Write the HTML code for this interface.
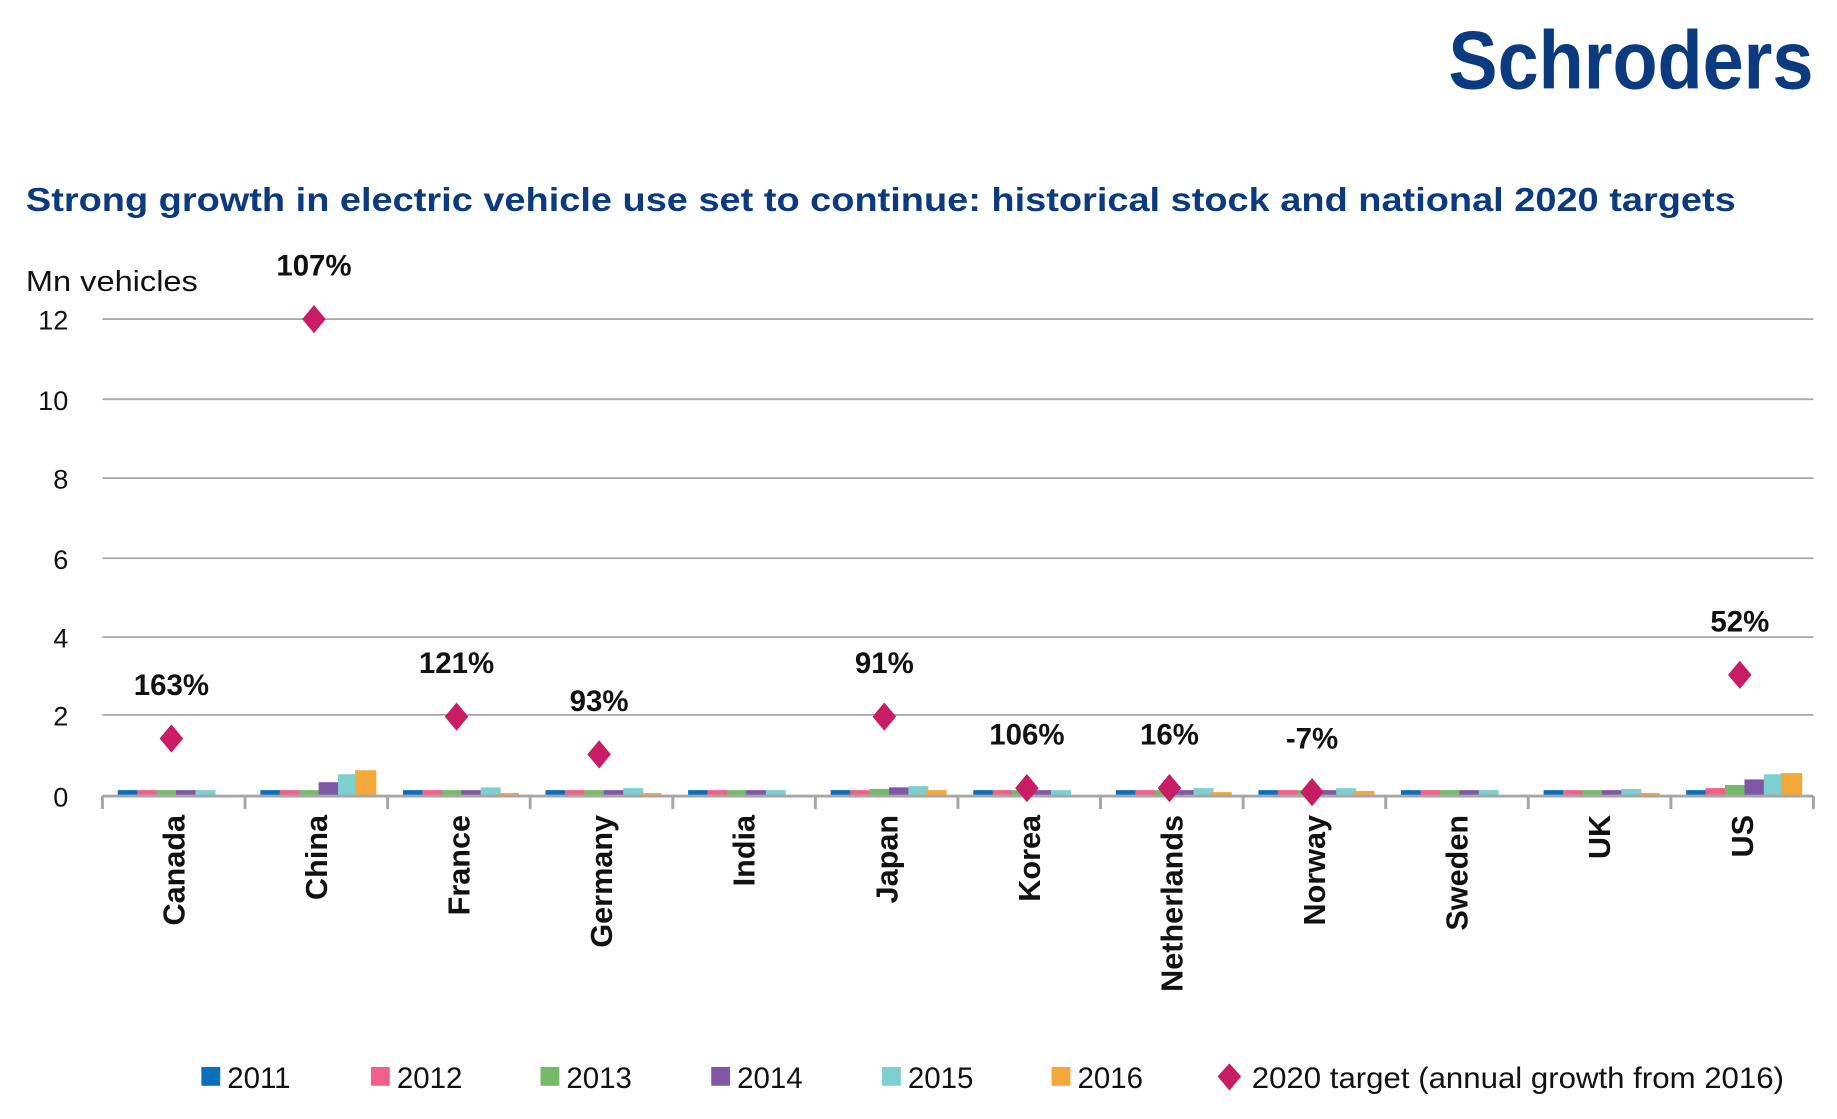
<!DOCTYPE html>
<html><head><meta charset="utf-8"><style>
html,body{margin:0;padding:0;background:#fff;width:1837px;height:1119px;overflow:hidden}
svg{display:block}
text{font-family:"Liberation Sans",sans-serif}
</style></head><body>
<svg width="1837" height="1119" viewBox="0 0 1560 950.2" preserveAspectRatio="none">
<text x="1230" y="75" font-size="70" font-weight="bold" fill="#0b3a7e" textLength="310" lengthAdjust="spacingAndGlyphs">Schroders</text>
<text x="22" y="179" font-size="28" font-weight="bold" fill="#0b3a7e" textLength="1452" lengthAdjust="spacingAndGlyphs">Strong growth in electric vehicle use set to continue: historical stock and national 2020 targets</text>
<text x="22" y="247" font-size="24" fill="#111" textLength="146" lengthAdjust="spacingAndGlyphs">Mn vehicles</text>
<g stroke="#a6a6a6" stroke-width="1.5">
<line x1="87" y1="271" x2="1540" y2="271"/><line x1="87" y1="339" x2="1540" y2="339"/>
<line x1="87" y1="406" x2="1540" y2="406"/><line x1="87" y1="474" x2="1540" y2="474"/>
<line x1="87" y1="541" x2="1540" y2="541"/><line x1="87" y1="607" x2="1540" y2="607"/>
</g>
<g font-size="23" fill="#111" text-anchor="end">
<text x="58" y="280">12</text><text x="58" y="348">10</text><text x="58" y="415">8</text>
<text x="58" y="483">6</text><text x="58" y="550">4</text><text x="58" y="616">2</text><text x="58" y="685">0</text>
</g>
<g id="bars"></g>
<g stroke="#a6a6a6" stroke-width="2.5" id="axis"><line x1="87" y1="676" x2="1540" y2="676"/></g>
<g id="xl" font-size="26" font-weight="bold" fill="#111"></g>
<g id="dm"></g>
<g font-size="25" fill="#111">
<rect x="171" y="906" width="16" height="16" fill="#0a6fba"/><text x="193" y="924">2011</text>
<rect x="315" y="906" width="16" height="16" fill="#f0608a"/><text x="337" y="924">2012</text>
<rect x="459" y="906" width="16" height="16" fill="#73bb68"/><text x="481" y="924">2013</text>
<rect x="604" y="906" width="16" height="16" fill="#7f57a6"/><text x="626" y="924">2014</text>
<rect x="749" y="906" width="16" height="16" fill="#7dcfd0"/><text x="771" y="924">2015</text>
<rect x="893" y="906" width="16" height="16" fill="#f5a83a"/><text x="915" y="924">2016</text>
<polygon points="1044,903 1054,914 1044,926 1034,914" fill="#c81d64"/>
<text x="1063" y="924" textLength="452" lengthAdjust="spacingAndGlyphs">2020 target (annual growth from 2016)</text>
</g>
</svg>
<script>
var ns="http://www.w3.org/2000/svg";
function el(p,t,a,txt){var e=document.createElementNS(ns,t);for(var k in a)e.setAttribute(k,a[k]);if(txt)e.textContent=txt;p.appendChild(e);return e;}
var cols=["#0a6fba","#f0608a","#73bb68","#7f57a6","#7dcfd0","#f5a83a"];
var names=["Canada","China","France","Germany","India","Japan","Korea","Netherlands","Norway","Sweden","UK","US"];
var v=[[.15,.15,.15,.15,.15,.02],[.15,.15,.15,.35,.55,.65],[.15,.15,.15,.15,.22,.08],[.15,.15,.15,.15,.2,.08],[.15,.15,.15,.15,.15,0],[.15,.15,.18,.22,.25,.15],[.15,.15,.15,.15,.15,.01],[.15,.15,.15,.15,.2,.1],[.15,.15,.15,.15,.2,.13],[.15,.15,.15,.15,.15,.01],[.15,.15,.15,.15,.18,.08],[.15,.2,.28,.42,.55,.58]];
var d=[[1.45,"163%"],[12,"107%"],[2,"121%"],[1.05,"93%"],null,[2,"91%"],[.2,"106%"],[.2,"16%"],[.1,"-7%"],null,null,[3.05,"52%"]];
var B=document.getElementById("bars"),A=document.getElementById("axis"),X=document.getElementById("xl"),D=document.getElementById("dm");
var cw=(1540-87)/12,u=33.75,y0=676;
for(var i=0;i<12;i++){var x0=87+cw*i;
 el(A,"line",{x1:x0,y1:676,x2:x0,y2:687});
 for(var j=0;j<6;j++){var h=v[i][j]*u;var bx=x0+13+j*16.5+(j==5?-2:0);el(B,"rect",{x:bx,y:y0-h,width:(j==5?18:17),height:h,fill:cols[j]});}
 var cx=x0+cw/2;
 el(X,"text",{transform:"translate("+(cx+9)+",692) rotate(-90)","text-anchor":"end"},names[i]);
 if(d[i]){var yy=y0-d[i][0]*u;el(D,"polygon",{points:(cx-2)+","+(yy-12)+" "+(cx+8)+","+yy+" "+(cx-2)+","+(yy+12)+" "+(cx-12)+","+yy,fill:"#c81d64"});
 el(D,"text",{x:cx-2,y:yy-37,"text-anchor":"middle","font-size":"25","font-weight":"bold",fill:"#111"},d[i][1]);}
}
el(A,"line",{x1:1540,y1:676,x2:1540,y2:687});
</script>
</body></html>
